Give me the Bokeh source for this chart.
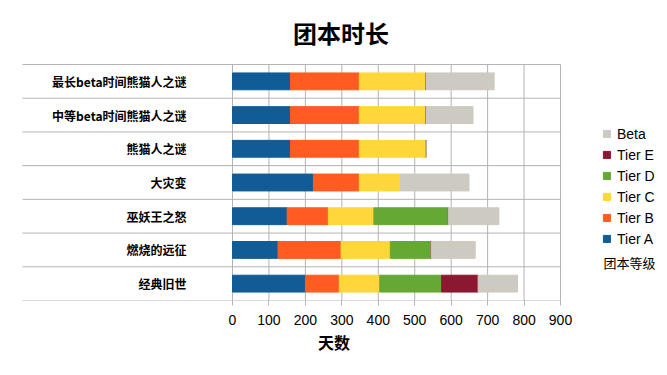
from bokeh.plotting import figure
from bokeh.models import (ColumnDataSource, Range1d, FixedTicker, Legend,
                          LegendItem, Label, Title)
from bokeh.core.properties import value
from bokeh.embed import file_html
from bokeh.resources import INLINE

categories = ["最长beta时间熊猫人之谜", "中等beta时间熊猫人之谜", "熊猫人之谜", "大灾变",
              "巫妖王之怒", "燃烧的远征", "经典旧世"]
tier_a = [159, 159, 159, 222, 150, 125, 200]
tier_b = [189, 189, 189, 126, 113, 173, 93]
tier_c = [183, 183, 183, 113, 125, 135, 111]
tier_d = [0, 0, 0, 0, 204, 112, 170]
tier_e = [0, 0, 0, 0, 0, 0, 100]
beta = [187, 129, 0, 188, 139, 121, 108]
series_names = ["Tier A", "Tier B", "Tier C", "Tier D", "Tier E", "Beta"]
x_ticks = [0, 100, 200, 300, 400, 500, 600, 700, 800, 900]
title_text = "团本时长"
x_title = "天数"
legend_title = "团本等级"

colors = ["#115C97", "#FF5B22", "#FFD73A", "#66A834", "#8C1730", "#CDCBC1"]

n = len(categories)
row_y = [n - 0.5 - k for k in range(n)]  # category slot centres, first category on top

source = ColumnDataSource(dict(cat=categories, y=row_y, **{
    "Tier A": tier_a, "Tier B": tier_b, "Tier C": tier_c,
    "Tier D": tier_d, "Tier E": tier_e, "Beta": beta}))

# layout (pixels)
px_per_unit = 328.0 / 900.0
axis_px = 232
frame_bottom_px = 300
plot_top_px = 64
row_px = (frame_bottom_px - plot_top_px) / n

x_start = -axis_px / px_per_unit
x_end = (667 - axis_px) / px_per_unit

p = figure(width=667, height=375, output_backend="svg", toolbar_location=None,
           x_range=Range1d(x_start, x_end), y_range=Range1d(0, frame_bottom_px / row_px),
           min_border_left=0, min_border_right=0, min_border_top=0, min_border_bottom=75)
p.outline_line_color = None
p.background_fill_color = "white"
p.border_fill_color = "white"
p.yaxis.visible = False
p.ygrid.grid_line_color = None
p.xgrid.grid_line_color = None

p.xaxis.ticker = FixedTicker(ticks=x_ticks)
p.xaxis.axis_line_color = None
p.xaxis.major_tick_line_color = "#b3b3b3"
p.xaxis.major_tick_out = 5
p.xaxis.major_tick_in = 0
p.xaxis.minor_tick_line_color = None
p.xaxis.major_label_text_font = "Liberation Sans"
p.xaxis.major_label_text_font_size = "14px"
p.xaxis.major_label_text_color = "#000000"
p.xaxis.major_label_standoff = 9

p.add_layout(Title(text=x_title, align="center", offset=-18, text_font="Noto Sans CJK SC",
                   text_font_style="bold", text_font_size="16px", text_color="#000000",
                   standoff=0), "below")

# vertical grid lines over the plot area
p.segment(x0=x_ticks, x1=x_ticks, y0=[0] * len(x_ticks), y1=[n] * len(x_ticks),
          line_color="#b3b3b3", line_width=1)

# category separators
sep_left = -(axis_px - 22) / px_per_unit
sep_y = list(range(n + 1))
p.segment(x0=[sep_left] * len(sep_y), x1=[x_ticks[-1]] * len(sep_y), y0=sep_y, y1=sep_y,
          line_color="#b3b3b3", line_width=1)

renderers = p.hbar_stack(series_names, y="y", height=0.5, color=colors, source=source)

# category labels
lab_x = -(axis_px - 186) / px_per_unit
p.text(x=[lab_x] * n, y=row_y, text=categories,
       text_align="right", text_baseline="middle", text_font=value("Noto Sans CJK SC"),
       text_font_style="bold", text_font_size="12px", text_color="#000000")

items = [LegendItem(label=s, renderers=[r]) for s, r in zip(series_names, renderers)][::-1]
legend = Legend(items=items, location=(602, 51), orientation="vertical",
                label_text_font="Liberation Sans", label_text_font_size="14px",
                label_text_color="#000000",
                label_height=21, glyph_height=9, glyph_width=9, spacing=0, padding=0,
                margin=0, label_standoff=6, background_fill_alpha=0, border_line_color=None)
p.add_layout(legend, "center")

p.add_layout(Label(x=603, y=frame_bottom_px - 262, x_units="screen", y_units="screen",
                   text=legend_title, text_font="Noto Sans CJK SC", text_font_size="13px",
                   text_color="#000000", text_baseline="middle", text_align="left"))
p.add_layout(Label(x=340.5, y=frame_bottom_px - 31.5, x_units="screen", y_units="screen",
                   text=title_text, text_font="Noto Sans CJK SC", text_font_style="bold",
                   text_font_size="24px", text_color="#000000",
                   text_baseline="middle", text_align="center"))

open("out.html", "w").write(file_html(p, INLINE))
